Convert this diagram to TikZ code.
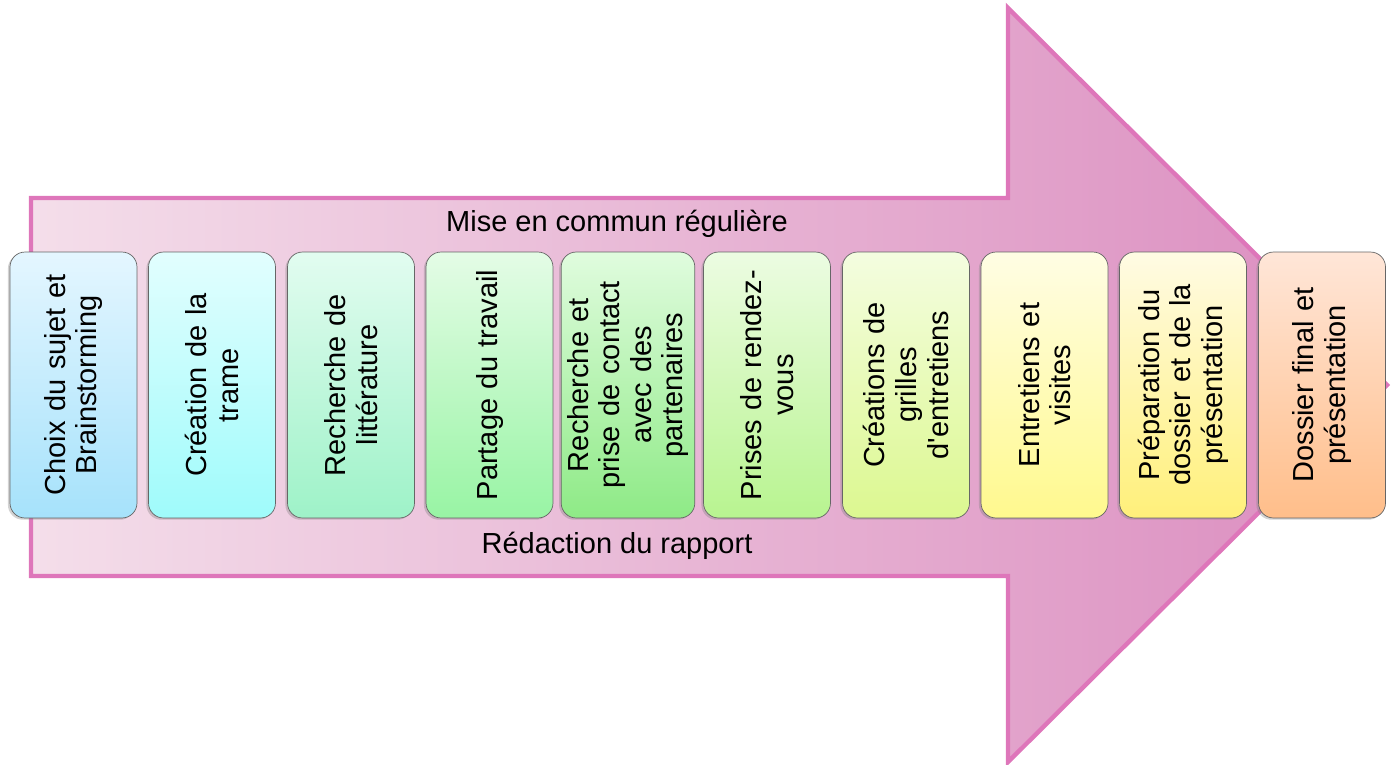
\documentclass[tikz,border=0pt]{standalone}
\usepackage{fontspec}
\setmainfont{Liberation Sans}
\usepackage{xcolor}
\usepackage{tikz}
\usetikzlibrary{shapes,positioning,shadows}

\definecolor{arrowlight}{HTML}{F4DEEA}
\definecolor{arrowdark}{HTML}{DB8CBF}
\definecolor{arrowline}{HTML}{DE76BA}

\begin{document}
\begin{tikzpicture}[
    x=0.02cm, y=-0.02cm,
    arrowbody/.style={draw=arrowline, line width=2.5pt, left color=arrowlight, right color=arrowdark, line join=miter},
    stage/.style={rectangle, rounded corners=0.3cm, draw=black!60, thin, rotate=90,
        minimum width=5.32cm, minimum height=2.54cm, text width=4.9cm, align=center,
        font=\fontsize{16.5}{18}\selectfont,
        drop shadow={opacity=0.35, shadow xshift=-1.2pt, shadow yshift=-1pt}},
    banner/.style={font=\fontsize{16.5}{18}\selectfont}
]
\useasboundingbox (0,0) rectangle (1391,764);

% Big arrow in the background
\draw[arrowbody] (31,198) -- (1008,198) -- (1008,8) -- (1387,385) -- (1008,762) -- (1008,576) -- (31,576) -- cycle;

% Labels on the arrow
\node[banner] (mise) at (617,224) {Mise en commun régulière};
\node[banner] (redaction) at (617,546) {Rédaction du rapport};

% Stages
\node[stage, top color={rgb,255:red,228;green,246;blue,255}, bottom color={rgb,255:red,166;green,226;blue,251}] (choix) at (73.5,385) {Choix du sujet et\\ Brainstorming};
\node[stage, top color={rgb,255:red,226;green,254;blue,254}, bottom color={rgb,255:red,159;green,251;blue,251}] (trame) at (212,385) {Création de la\\ trame};
\node[stage, top color={rgb,255:red,226;green,252;blue,240}, bottom color={rgb,255:red,158;green,242;blue,200}] (litterature) at (351,385) {Recherche de\\ littérature};
\node[stage, top color={rgb,255:red,228;green,252;blue,230}, bottom color={rgb,255:red,152;green,244;blue,164}] (partage) at (489.5,385) {Partage du travail};
\node[stage, top color={rgb,255:red,224;green,252;blue,222}, bottom color={rgb,255:red,142;green,234;blue,134}] (contact) at (628,385) {Recherche et\\ prise de contact\\ avec des\\ partenaires};
\node[stage, top color={rgb,255:red,236;green,252;blue,226}, bottom color={rgb,255:red,184;green,244;blue,144}] (rdv) at (767,385) {Prises de rendez-\\ vous};
\node[stage, top color={rgb,255:red,244;green,253;blue,224}, bottom color={rgb,255:red,220;green,248;blue,144}] (grilles) at (906,385) {Créations de\\ grilles\\ d\textquotesingle entretiens};
\node[stage, top color={rgb,255:red,255;green,253;blue,228}, bottom color={rgb,255:red,255;green,249;blue,142}] (entretiens) at (1044.5,385) {Entretiens et\\ visites};
\node[stage, top color={rgb,255:red,255;green,251;blue,228}, bottom color={rgb,255:red,255;green,240;blue,122}] (preparation) at (1183,385) {Préparation du\\ dossier et de la\\ présentation};
\node[stage, top color={rgb,255:red,255;green,230;blue,216}, bottom color={rgb,255:red,255;green,190;blue,138}] (final) at (1322,385) {Dossier final et\\ présentation};

\end{tikzpicture}
\end{document}
